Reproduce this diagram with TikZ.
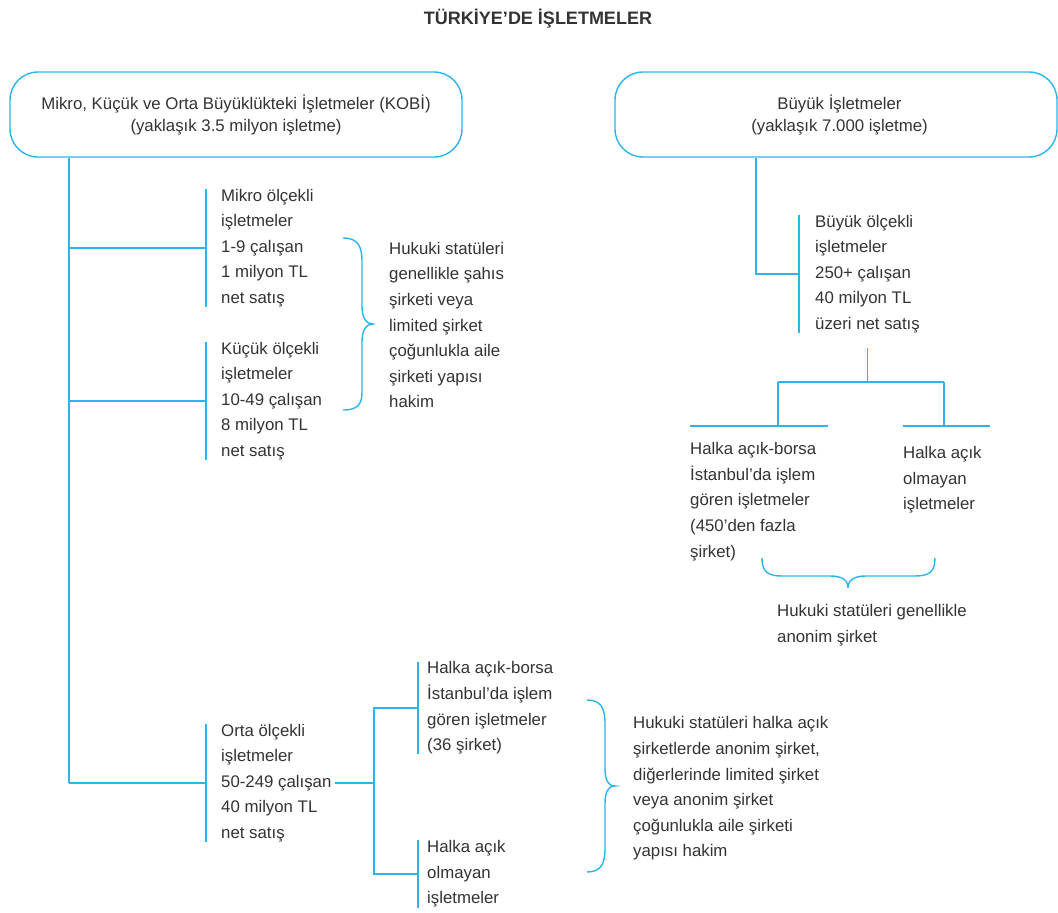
\documentclass[tikz,border=0pt]{standalone}
\usepackage{fontspec}
\setmainfont{Liberation Sans}
\definecolor{lineblue}{HTML}{2BB5EC}
\definecolor{txt}{HTML}{333333}
\tikzset{
  conn/.style={draw=lineblue, line width=1.4pt},
  rbox/.style={draw=lineblue, line width=1.4pt, rounded corners=28pt, align=center, text=txt,
    font=\fontsize{16.8}{22}\selectfont, inner sep=0pt},
  leaf/.style={align=left, inner sep=0pt, anchor=west, text=txt, font=\fontsize{16.8}{25.6}\selectfont},
}
\begin{document}
\begin{tikzpicture}[x=1pt,y=-1pt]
\useasboundingbox (0,0) rectangle (1058,913);
% title
\node[text=txt, font=\bfseries\fontsize{18}{22}\selectfont] (title) at (538,19) {TÜRKİYE’DE İŞLETMELER};
% top boxes
\node[rbox, minimum width=452pt, minimum height=85pt] (kobi) at (236,114.5)
  {Mikro, Küçük ve Orta Büyüklükteki İşletmeler (KOBİ)\\(yaklaşık 3.5 milyon işletme)};
\node[rbox, minimum width=442pt, minimum height=85pt] (buyuk) at (836,114.5)
  {\hspace*{7pt}Büyük İşletmeler\\\hspace*{7pt}(yaklaşık 7.000 işletme)};
% left column
\node[leaf] (mikro) at (221,248) {Mikro ölçekli\\işletmeler\\1-9 çalışan\\1 milyon TL\\net satış};
\node[leaf] (kucuk) at (221,401) {Küçük ölçekli\\işletmeler\\10-49 çalışan\\8 milyon TL\\net satış};
\node[leaf] (orta) at (221,783) {Orta ölçekli\\işletmeler\\50-249 çalışan\\40 milyon TL\\net satış};
\node[leaf] (huk1) at (389,325) {Hukuki statüleri\\genellikle şahıs\\şirketi veya\\limited şirket\\çoğunlukla aile\\şirketi yapısı\\hakim};
\node[leaf] (hab) at (427,708) {Halka açık-borsa\\İstanbul’da işlem\\gören işletmeler\\(36 şirket)};
\node[leaf] (hao) at (427,874) {Halka açık\\olmayan\\işletmeler};
\node[leaf] (huk3) at (633,788.5) {Hukuki statüleri halka açık\\şirketlerde anonim şirket,\\diğerlerinde limited şirket\\veya anonim şirket\\çoğunlukla aile şirketi\\yapısı hakim};
% right column
\node[leaf] (buyukol) at (815,274) {Büyük ölçekli\\işletmeler\\250+ çalışan\\40 milyon TL\\üzeri net satış};
\node[leaf] (halka1) at (690,501.5) {Halka açık-borsa\\İstanbul’da işlem\\gören işletmeler\\(450’den fazla\\şirket)};
\node[leaf] (halka2) at (903,480) {Halka açık\\olmayan\\işletmeler};
\node[leaf] (huk2) at (777,625) {Hukuki statüleri genellikle\\anonim şirket};

% helper coordinates
\coordinate (trunkx) at (69,0);
\coordinate (ox) at (374,0);
\coordinate (bx) at (756,0);
\coordinate (s1) at (778,382);
\coordinate (s2) at (944,382);
\coordinate (l1a) at (690,426);
\coordinate (l1b) at (828,426);
\coordinate (l2a) at (903,426);
\coordinate (l2b) at (990,426);

% left trunk and branches
\draw[conn] (kobi.south -| trunkx) -- (orta.west -| trunkx);
\foreach \n in {mikro,kucuk,orta}{
  \draw[conn] (\n.west -| trunkx) -- ([xshift=-15pt]\n.west);
  \draw[conn] ([xshift=-15pt]\n.north west) -- ([xshift=-15pt]\n.south west);
}
% orta sub-branches
\draw[conn] ([xshift=3pt]orta.east) -- (orta.east -| ox);
\draw[conn] ([xshift=-9pt]hab.west) -| (hao.west -| ox) -- ([xshift=-9pt]hao.west);
\foreach \n in {hab,hao}{
  \draw[conn] ([xshift=-9pt]\n.north west) -- ([xshift=-9pt]\n.south west);
}
% right branch
\draw[conn] (buyuk.south -| bx) |- ([xshift=-16pt]buyukol.west);
\draw[conn] ([xshift=-16pt]buyukol.north west) -- ([xshift=-16pt]buyukol.south west);
\draw[conn] ([yshift=-15pt]buyukol.south) -- (buyukol.south |- s1);
\draw[conn] (s1) -- (s2);
\draw[conn] (s1) -- (s1 |- l1a);
\draw[conn] (s2) -- (s2 |- l2a);
\draw[conn] (l1a) -- (l1b);
\draw[conn] (l2a) -- (l2b);

% braces
\draw[conn] (343,238) .. controls (358,238) and (362,246) .. (362,262) -- (362,306)
  .. controls (362,318) and (366,324) .. (373,324)
  .. controls (366,324) and (362,330) .. (362,342) -- (362,392)
  .. controls (362,404) and (358,410) .. (343,410);
\draw[conn] (762,558) .. controls (762,572) and (768,576) .. (782,576) -- (830,576)
  .. controls (842,576) and (848,580) .. (848,588)
  .. controls (848,580) and (854,576) .. (866,576) -- (915,576)
  .. controls (929,576) and (935,572) .. (935,558);
\draw[conn] (587,700) .. controls (601,700) and (605,708) .. (605,724) -- (605,768)
  .. controls (605,780) and (608,786) .. (615,786)
  .. controls (608,786) and (605,792) .. (605,804) -- (605,848)
  .. controls (605,864) and (601,872) .. (587,872);
\end{tikzpicture}
\end{document}
